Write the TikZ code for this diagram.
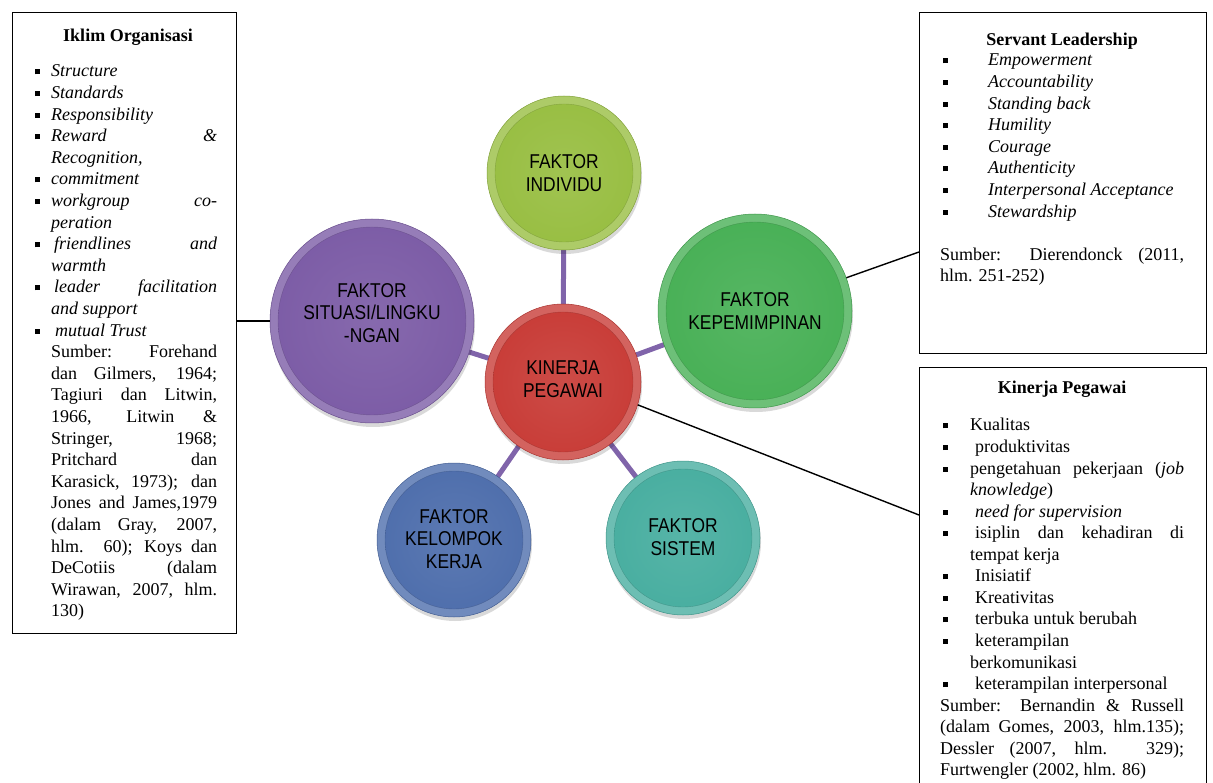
\documentclass[tikz,border=0pt]{standalone}
\usepackage{fontspec}
\setmainfont{Liberation Serif}
\newfontfamily\circfont[FakeStretch=0.87]{Liberation Sans}
\usetikzlibrary{calc}
\pgfdeclarelayer{bg}
\pgfsetlayers{bg,main}

\definecolor{cInd}{RGB}{152,190,66}
\definecolor{cKep}{RGB}{72,176,86}
\definecolor{cKin}{RGB}{200,60,55}
\definecolor{cSit}{RGB}{124,92,166}
\definecolor{cKel}{RGB}{78,110,172}
\definecolor{cSis}{RGB}{72,174,160}
\definecolor{cSpoke}{RGB}{128,100,170}

\newcommand\bsq{\rule[2.5pt]{5pt}{5pt}}
\newcommand\Lbul[3]{\par\noindent\hspace*{#1}\makebox[#2][l]{\bsq}#3}
\newcommand\Lind[2]{\par\noindent\hspace*{#1}#2}
\newcommand\J[2]{\makebox[#1][s]{#2}}

\tikzset{
  ball/.style n args={2}{circle, inner sep=0pt, minimum size=#2*2pt,
    fill=#1!80!white, draw=#1!85!black, line width=0.5pt,
    preaction={fill=black, opacity=0.15, transform canvas={shift={(1pt,-4pt)}}},
    path picture={\shade[inner color=#1!92!white, outer color=#1]
      (path picture bounding box.center) circle[radius=#2pt-8pt];
      \draw[#1!70!black, line width=0.4pt, opacity=0.5]
      (path picture bounding box.center) circle[radius=#2pt-8pt];}},
  ctext/.style={align=center, inner sep=0pt, text=black,
    font=\circfont\fontsize{20}{22.5}\selectfont},
  frame/.style={draw=black, line width=1.4pt, anchor=north west, inner sep=0pt},
  btext/.style={anchor=base west, inner sep=0pt},
  btitle/.style={anchor=base, inner sep=0pt, font=\bfseries\fontsize{18}{21.6}\selectfont},
  spoke/.style={draw=cSpoke, line width=5pt},
  conn/.style={draw=black, line width=1.4pt},
}

\begin{document}
\begin{tikzpicture}[x=1pt,y=-1pt]
\useasboundingbox (0,0) rectangle (1213,783);
\clip (0,0) rectangle (1213,783);

% circles
\node[ball={cInd}{77}] (ind) at (564,173) {};
\node[ball={cKin}{78}] (kin) at (563,382) {};
\node[ball={cKep}{97}] (kep) at (755,311) {};
\node[ball={cSit}{102}] (sit) at (372,321) {};
\node[ball={cKel}{77}] (kel) at (454,540) {};
\node[ball={cSis}{77}] (sis) at (683,538) {};

\begin{pgfonlayer}{bg}
\draw[spoke] (kin.center) -- (ind.center);
\draw[spoke] (kin.center) -- (kep.center);
\draw[spoke] (kin.center) -- (sit.center);
\draw[spoke] (kin.center) -- (kel.center);
\draw[spoke] (kin.center) -- (sis.center);
\end{pgfonlayer}

\node[ctext] (tInd) at (564,173) {FAKTOR\\INDIVIDU};
\node[ctext] (tKin) at (563,379) {KINERJA\\PEGAWAI};
\node[ctext] (tKep) at (755,311) {FAKTOR\\KEPEMIMPINAN};
\node[ctext] (tSit) at (372,313) {FAKTOR\\SITUASI/LINGKU\\-NGAN};
\node[ctext] (tKel) at (454,539) {FAKTOR\\KELOMPOK\\KERJA};
\node[ctext] (tSis) at (683,537) {FAKTOR\\SISTEM};

% boxes
\node[frame, minimum width=224pt, minimum height=621pt] (lbox) at (12,12) {};
\node[frame, minimum width=287pt, minimum height=341pt] (trbox) at (919,12) {};
\node[frame, minimum width=287pt, minimum height=440pt] (brbox) at (919,367) {};

% left box text
\node[btitle] (ltitle) at (128,42) {Iklim Organisasi};
\node[btext] (ltext) at (35,77) {\parbox[t]{182pt}{\fontsize{18}{21.6}\selectfont\parskip=0pt
\Lbul{0pt}{16pt}{\textit{Structure}}
\Lbul{0pt}{16pt}{\textit{Standards}}
\Lbul{0pt}{16pt}{\textit{Responsibility}}
\Lbul{0pt}{16pt}{\J{166pt}{\textit{Reward \&}}}
\Lind{16pt}{\textit{Recognition,}}
\Lbul{0pt}{16pt}{\textit{commitment}}
\Lbul{0pt}{16pt}{\J{166pt}{\textit{workgroup co-}}}
\Lind{16pt}{\textit{peration}}
\Lbul{0pt}{16pt}{\J{166pt}{\hspace*{3pt}\textit{friendlines and}}}
\Lind{16pt}{\textit{warmth}}
\Lbul{0pt}{16pt}{\J{166pt}{\hspace*{3pt}\textit{leader facilitation}}}
\Lind{16pt}{\textit{and support}}
\Lbul{0pt}{16pt}{\hspace*{4pt}\textit{mutual Trust}}
\Lind{16pt}{\J{166pt}{Sumber: Forehand}}
\Lind{16pt}{\J{166pt}{dan Gilmers, 1964;}}
\Lind{16pt}{\J{166pt}{Tagiuri dan Litwin,}}
\Lind{16pt}{\J{166pt}{1966, Litwin \&}}
\Lind{16pt}{\J{166pt}{Stringer, 1968;}}
\Lind{16pt}{\J{166pt}{Pritchard dan}}
\Lind{16pt}{\J{166pt}{Karasick, 1973); dan}}
\Lind{16pt}{\J{166pt}{Jones and James,1979}}
\Lind{16pt}{\J{166pt}{(dalam Gray, 2007,}}
\Lind{16pt}{\J{166pt}{hlm. 60); Koys dan}}
\Lind{16pt}{\J{166pt}{DeCotiis (dalam}}
\Lind{16pt}{\J{166pt}{Wirawan, 2007, hlm.}}
\Lind{16pt}{130)}
}};

% top right box text
\node[btitle] (trtitle) at (1062,46) {Servant Leadership};
\node[btext] (trtext) at (940,66) {\parbox[t]{244pt}{\fontsize{18}{21.6}\selectfont\parskip=0pt
\Lbul{3pt}{45pt}{\textit{Empowerment}}
\Lbul{3pt}{45pt}{\textit{Accountability}}
\Lbul{3pt}{45pt}{\textit{Standing back}}
\Lbul{3pt}{45pt}{\textit{Humility}}
\Lbul{3pt}{45pt}{\textit{Courage}}
\Lbul{3pt}{45pt}{\textit{Authenticity}}
\Lbul{3pt}{45pt}{\textit{Interpersonal Acceptance}}
\Lbul{3pt}{45pt}{\textit{Stewardship}}
\Lind{0pt}{\mbox{}}
\Lind{0pt}{\J{244pt}{Sumber: Dierendonck (2011,}}
\Lind{0pt}{hlm. 251-252)}
}};

% bottom right box text
\node[btitle] (brtitle) at (1062,394) {Kinerja Pegawai};
\node[btext] (brtext) at (940,431) {\parbox[t]{244pt}{\fontsize{18}{21.55}\selectfont\parskip=0pt
\Lbul{3pt}{27pt}{Kualitas}
\Lbul{3pt}{27pt}{\hspace*{5pt}produktivitas}
\Lbul{3pt}{27pt}{\J{214pt}{pengetahuan pekerjaan (\textit{job}}}
\Lind{30pt}{\textit{knowledge})}
\Lbul{3pt}{27pt}{\hspace*{5pt}\textit{need for supervision}}
\Lbul{3pt}{27pt}{\J{214pt}{\hspace*{5pt}isiplin dan kehadiran di}}
\Lind{30pt}{tempat kerja}
\Lbul{3pt}{27pt}{\hspace*{5pt}Inisiatif}
\Lbul{3pt}{27pt}{\hspace*{5pt}Kreativitas}
\Lbul{3pt}{27pt}{\hspace*{5pt}terbuka untuk berubah}
\Lbul{3pt}{27pt}{\hspace*{5pt}keterampilan}
\Lind{30pt}{berkomunikasi}
\Lbul{3pt}{27pt}{\hspace*{5pt}keterampilan interpersonal}
\Lind{0pt}{\J{244pt}{Sumber: Bernandin \& Russell}}
\Lind{0pt}{\J{244pt}{(dalam Gomes, 2003, hlm.135);}}
\Lind{0pt}{\J{244pt}{Dessler (2007, hlm. 329);}}
\Lind{0pt}{Furtwengler (2002, hlm. 86)}
}};

% connectors from boxes
\coordinate (trpin) at (919,252);
\coordinate (brpin) at (919,515);
\draw[conn] (lbox.east |- sit.west) -- (sit.west);
\draw[conn] (trpin) -- (kep.20);
\draw[conn] (brpin) -- (kin.-17);
\end{tikzpicture}
\end{document}
